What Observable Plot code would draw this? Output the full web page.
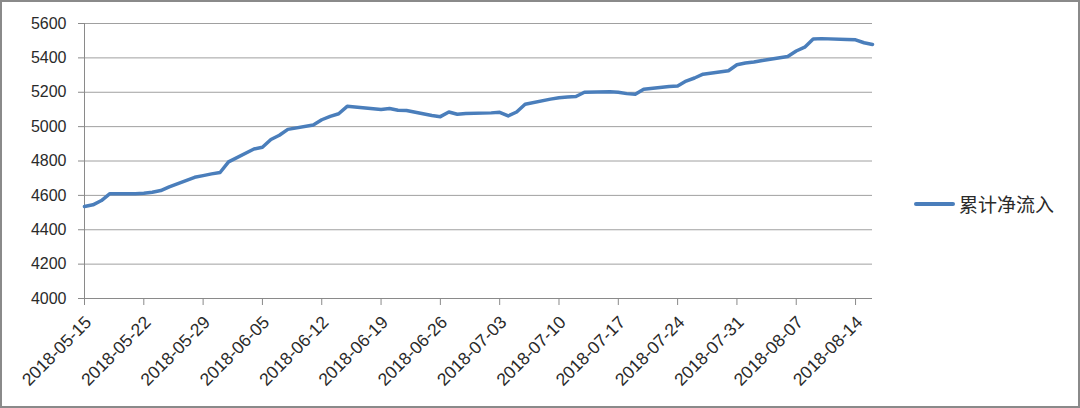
<!DOCTYPE html>
<html>
<head>
<meta charset="utf-8">
<script src="https://cdn.jsdelivr.net/npm/d3@7"></script>
<script src="https://cdn.jsdelivr.net/npm/@observablehq/plot@0.6"></script>
<style>
  html, body { margin: 0; padding: 0; background: #fff; }
  #wrap { position: relative; width: 1080px; height: 408px; overflow: hidden; }
  #frame { position: absolute; left: 0; top: 0; width: 1080px; height: 408px; box-sizing: border-box; border: 2px solid #8a8a8a; pointer-events: none; }
  #legend { position: absolute; left: 914px; top: 190px; display: flex; align-items: center; font-family: "Noto Sans CJK SC", sans-serif; font-size: 19px; color: #2a2a2a; }
  #legend .sw { width: 41px; height: 4px; background: #4a7ebb; margin-right: 4px; border-radius: 2px; }
</style>
</head>
<body>
<div id="wrap"><div id="chart"></div><div id="legend"><span class="sw"></span><span>累计净流入</span></div><div id="frame"></div></div>
<script>
const seriesName = "累计净流入";
const dates = [
  "2018-05-15","2018-05-16","2018-05-17","2018-05-18","2018-05-21","2018-05-22","2018-05-23","2018-05-24","2018-05-25","2018-05-28","2018-05-29","2018-05-30","2018-05-31",
  "2018-06-01","2018-06-04","2018-06-05","2018-06-06","2018-06-07","2018-06-08","2018-06-11","2018-06-12","2018-06-13","2018-06-14","2018-06-15","2018-06-19","2018-06-20","2018-06-21","2018-06-22","2018-06-25","2018-06-26","2018-06-27","2018-06-28","2018-06-29",
  "2018-07-02","2018-07-03","2018-07-04","2018-07-05","2018-07-06","2018-07-09","2018-07-10","2018-07-11","2018-07-12","2018-07-13","2018-07-16","2018-07-17","2018-07-18","2018-07-19","2018-07-20","2018-07-23","2018-07-24","2018-07-25","2018-07-26","2018-07-27","2018-07-30","2018-07-31",
  "2018-08-01","2018-08-02","2018-08-03","2018-08-06","2018-08-07","2018-08-08","2018-08-09","2018-08-10","2018-08-13","2018-08-14","2018-08-15","2018-08-16"
];
const values = [
  4535,4545,4570,4610,4610,4612,4618,4628,4650,4705,4715,4725,4733,
  4795,4870,4880,4925,4950,4984,5010,5040,5060,5075,5118,5100,5105,5095,5094,5065,5058,5085,5072,5077,
  5080,5083,5062,5085,5130,5160,5168,5172,5175,5200,5203,5200,5192,5188,5218,5234,5236,5265,5283,5305,5325,5360,
  5370,5376,5385,5408,5440,5462,5510,5512,5507,5505,5488,5478
];
const xTickLabels = ["2018-05-15","2018-05-22","2018-05-29","2018-06-05","2018-06-12","2018-06-19","2018-06-26","2018-07-03","2018-07-10","2018-07-17","2018-07-24","2018-07-31","2018-08-07","2018-08-14"];
const yTicks = [4000,4200,4400,4600,4800,5000,5200,5400,5600];
const xDomain = ["2018-05-15","2018-08-16"];

const parse = d3.utcParse("%Y-%m-%d");
const data = dates.map((d, i) => ({date: parse(d), value: values[i]}));
const xTicks = xTickLabels.map(parse);

const chart = Plot.plot({
  width: 1080,
  height: 408,
  marginLeft: 84,
  marginRight: 208,
  marginTop: 23,
  marginBottom: 110,
  style: {fontFamily: "'Liberation Sans', Arial, sans-serif", fontSize: "16px", color: "#2a2a2a", background: "transparent"},
  x: {type: "utc", domain: xDomain.map(parse)},
  y: {domain: [4000, 5600]},
  marks: [
    Plot.gridY(yTicks, {stroke: "#a0a0a0", strokeOpacity: 1, strokeWidth: 1}),
    Plot.ruleX([parse(xDomain[0])], {stroke: "#8a8a8a", strokeWidth: 1}),
    Plot.ruleY([4000], {stroke: "#8a8a8a", strokeWidth: 1}),
    Plot.axisY({ticks: yTicks, tickFormat: d3.format("d"), tickSize: 6, tickPadding: 12, stroke: "#8a8a8a", fill: "#2a2a2a", fontSize: 16, label: null}),
    Plot.axisX({ticks: xTicks, tickFormat: () => "", tickSize: 7, stroke: "#8a8a8a", label: null}),
    Plot.axisX({ticks: xTicks, tickFormat: d3.utcFormat("%Y-%m-%d"), tickRotate: -45, tickSize: 0, tickPadding: 21, dx: 4, fill: "#2a2a2a", fontSize: 17.5, label: null}),
    Plot.line(data, {x: "date", y: "value", stroke: "#4a7ebb", strokeWidth: 3.5, strokeLinejoin: "round", strokeLinecap: "round"})
  ]
});
document.getElementById("chart").appendChild(chart);
</script>
</body>
</html>
